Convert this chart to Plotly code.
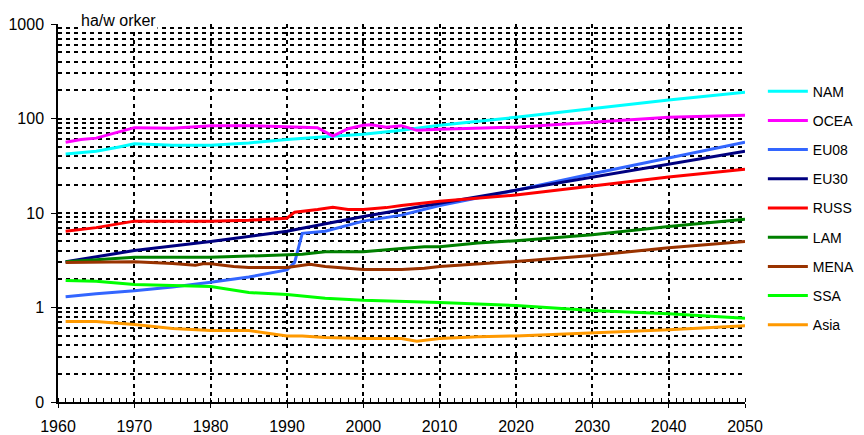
import plotly.graph_objects as go

# ha per worker
nam_years = [1961, 1965, 1968, 1970, 1975, 1980, 1985, 1990, 1995, 2000, 2005, 2010, 2020, 2030, 2040, 2050]
nam_vals = [42, 45, 50, 54, 52, 52, 55, 60, 64, 68, 75, 85, 103, 128, 157, 190]

ocea_years = [1961, 1963, 1965, 1968, 1970, 1975, 1980, 1985, 1990, 1994, 1996, 1998, 2000, 2001, 2003, 2005, 2007, 2010, 2020, 2030, 2040, 2050]
ocea_vals = [56, 60, 62, 72, 80, 79, 84, 84, 82, 80, 65, 78, 85, 86, 81, 84, 75, 77, 81, 92, 103, 108]

eu08_years = [1961, 1965, 1970, 1975, 1980, 1985, 1990, 1991, 1992, 1995, 2000, 2005, 2010, 2020, 2030, 2040, 2050]
eu08_vals = [1.3, 1.4, 1.5, 1.65, 1.85, 2.1, 2.5, 3.0, 6.1, 6.4, 8.2, 9.5, 12.0, 17.4, 26.0, 38, 56]

eu30_years = [1961, 1970, 1980, 1990, 1992, 2000, 2010, 2020, 2030, 2040, 2050]
eu30_vals = [3.05, 4.0, 5.0, 6.4, 6.9, 9.2, 12.7, 17.4, 24, 33, 45]

russ_years = [1961, 1965, 1970, 1980, 1985, 1990, 1991, 1992, 1994, 1996, 1998, 2000, 2003, 2005, 2010, 2020, 2030, 2040, 2050]
russ_vals = [6.4, 7.0, 8.2, 8.2, 8.4, 8.8, 10.2, 10.4, 10.9, 11.5, 10.9, 10.9, 11.4, 12.0, 13.3, 15.5, 19.2, 24, 29]

lam_years = [1961, 1970, 1980, 1989, 1992, 1995, 2000, 2005, 2008, 2010, 2015, 2020, 2030, 2040, 2050]
lam_vals = [3.05, 3.4, 3.4, 3.55, 3.65, 3.9, 3.9, 4.2, 4.4, 4.4, 4.8, 5.1, 5.9, 7.2, 8.6]

mena_years = [1961, 1970, 1975, 1978, 1979, 1980, 1983, 1985, 1990, 1992, 1993, 1995, 1998, 2000, 2005, 2008, 2010, 2020, 2030, 2040, 2050]
mena_vals = [3.0, 3.05, 2.93, 2.8, 2.9, 2.9, 2.72, 2.65, 2.65, 2.8, 2.86, 2.72, 2.6, 2.53, 2.53, 2.6, 2.72, 3.07, 3.55, 4.3, 5.0]

ssa_years = [1961, 1965, 1970, 1975, 1980, 1985, 1990, 1995, 2000, 2010, 2020, 2030, 2040, 2050]
ssa_vals = [1.93, 1.9, 1.75, 1.71, 1.67, 1.44, 1.37, 1.25, 1.19, 1.13, 1.05, 0.93, 0.86, 0.77]

asia_years = [1961, 1965, 1970, 1975, 1980, 1985, 1990, 1992, 1995, 2000, 2005, 2007, 2010, 2015, 2020, 2030, 2040, 2050]
asia_vals = [0.71, 0.71, 0.66, 0.60, 0.57, 0.57, 0.50, 0.50, 0.48, 0.47, 0.47, 0.44, 0.47, 0.49, 0.50, 0.54, 0.58, 0.64]

series = [
    ("NAM", nam_years, nam_vals, "#00FFFF"),
    ("OCEA", ocea_years, ocea_vals, "#FF00FF"),
    ("EU08", eu08_years, eu08_vals, "#3366FF"),
    ("EU30", eu30_years, eu30_vals, "#000080"),
    ("RUSS", russ_years, russ_vals, "#FF0000"),
    ("LAM", lam_years, lam_vals, "#008000"),
    ("MENA", mena_years, mena_vals, "#993300"),
    ("SSA", ssa_years, ssa_vals, "#00FF00"),
    ("Asia", asia_years, asia_vals, "#FF9900"),
]

major_y = [0.1, 1, 10, 100, 1000]
major_y_text = ["0", "1", "10", "100", "1000"]
minor_y = [m * d for d in [0.1, 1, 10, 100] for m in range(2, 10)]

fig = go.Figure()
for name, yrs, vals, col in series:
    fig.add_trace(go.Scatter(x=yrs, y=vals, name=name, legendgroup=name,
                             mode="lines", line=dict(color=col, width=3)))

grid = dict(showgrid=True, gridcolor="black", gridwidth=1.5, griddash="4px,4px")

# page body adds an 8px margin, so the figure is shifted 8px right and down
fig.update_layout(
    width=864, height=427,
    margin=dict(l=50, r=123, t=16, b=33),
    plot_bgcolor="white", paper_bgcolor="white",
    font=dict(family="Liberation Sans, Arial, sans-serif", size=16, color="black"),
    legend=dict(x=1.026, y=0.513, yanchor="middle", xanchor="left",
                tracegroupgap=8, itemwidth=40, font=dict(size=14),
                traceorder="grouped"),
    xaxis=dict(range=[1960, 2050], tickvals=list(range(1960, 2051, 10)),
               ticks="outside", ticklen=4, tickcolor="black", automargin=False,
               ticklabelstandoff=5,
               showline=True, linecolor="black", linewidth=1.5,
               minor=dict(dtick=1, ticks="inside", ticklen=4, tickcolor="black", showgrid=False),
               zeroline=False, **grid),
    yaxis=dict(type="log", range=[-1, 3], tickvals=major_y, ticktext=major_y_text,
               ticks="outside", ticklen=5, tickcolor="black", automargin=False,
               ticklabelstandoff=4,
               showline=True, linecolor="black", linewidth=1.5,
               minor=dict(tickvals=minor_y, ticks="inside", ticklen=3, tickcolor="black",
                          showgrid=True, gridcolor="black", gridwidth=1.5, griddash="4px,4px"),
               zeroline=False, **grid),
    annotations=[dict(text="ha/w orker", xref="paper", yref="paper", x=0.03, y=1.008,
                      xanchor="left", yanchor="middle", showarrow=False,
                      bgcolor="white", font=dict(size=16))],
)

fig.write_html("out.html")
